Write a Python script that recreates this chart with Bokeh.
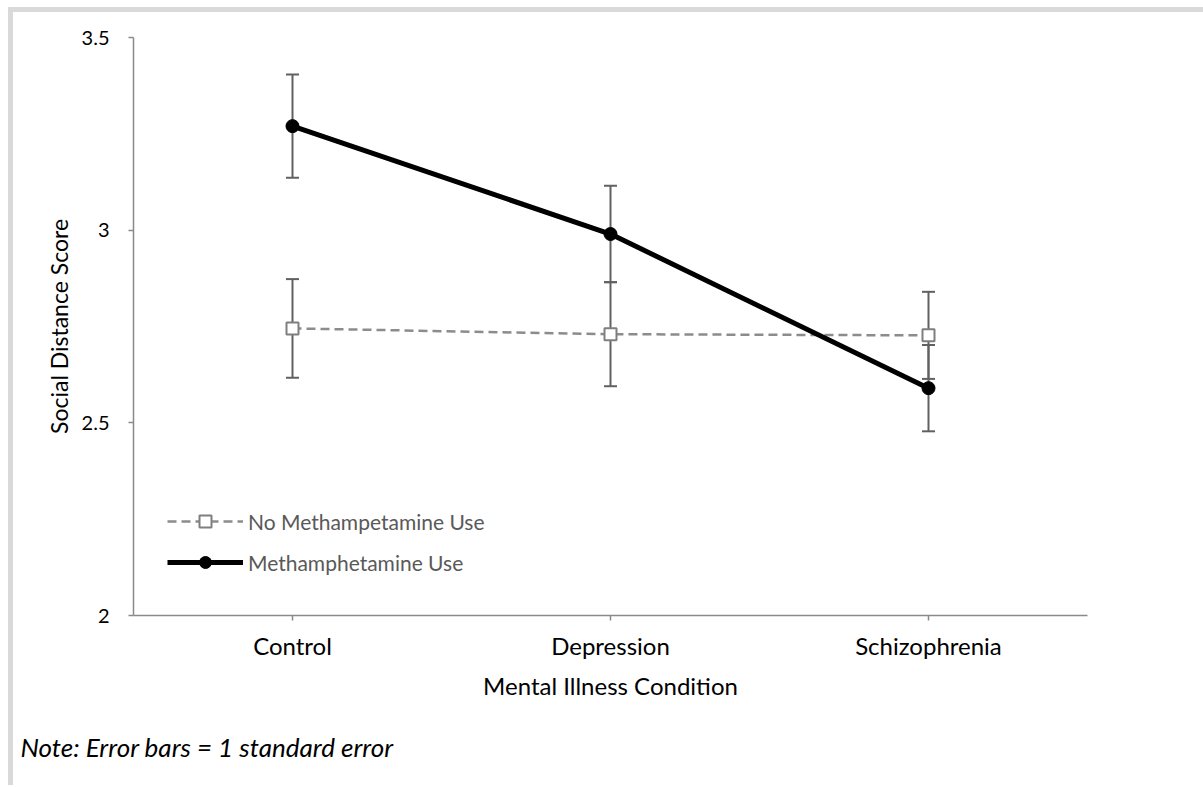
from bokeh.plotting import figure
from bokeh.models import (ColumnDataSource, FactorRange, Range1d, Whisker, TeeHead,
                          FixedTicker, NumeralTickFormatter, Title)
from bokeh.embed import file_html
from bokeh.resources import INLINE

categories = ["Control", "Depression", "Schizophrenia"]
meth_mean = [3.27, 2.99, 2.59]
meth_se = [0.134, 0.125, 0.112]
nometh_mean = [2.745, 2.73, 2.727]
nometh_se = [0.128, 0.135, 0.113]
y_ticks = [2, 2.5, 3, 3.5]
series_names = ["No Methampetamine Use", "Methamphetamine Use"]
x_title = "Mental Illness Condition"
y_title = "Social Distance Score"
note_text = "Note: Error bars = 1 standard error"

FONT = "Lato"
AXIS_GRAY = "#8a8a8a"
ERR_GRAY = "#616161"

src_no = ColumnDataSource(dict(
    x=categories, y=nometh_mean,
    upper=[m + s for m, s in zip(nometh_mean, nometh_se)],
    lower=[m - s for m, s in zip(nometh_mean, nometh_se)],
))
src_me = ColumnDataSource(dict(
    x=categories, y=meth_mean,
    upper=[m + s for m, s in zip(meth_mean, meth_se)],
    lower=[m - s for m, s in zip(meth_mean, meth_se)],
))

p = figure(width=1195, height=778, x_range=FactorRange(*categories, range_padding=0),
           y_range=Range1d(2, 3.5), output_backend="svg", toolbar_location=None,
           min_border_left=120, min_border_right=121, min_border_top=25, min_border_bottom=175)
p.styles = {"border-left": "5px solid #d9d9d9", "border-top": "5px solid #d9d9d9",
            "margin-left": "8px", "margin-top": "7px"}
p.outline_line_color = None
p.xgrid.visible = False
p.ygrid.visible = False

for src in (src_no, src_me):
    w = Whisker(base="x", upper="upper", lower="lower", source=src,
                line_color=ERR_GRAY, line_width=2,
                upper_head=TeeHead(size=13, line_color=ERR_GRAY, line_width=2),
                lower_head=TeeHead(size=13, line_color=ERR_GRAY, line_width=2))
    p.add_layout(w)

p.line("x", "y", source=src_no, line_color="#8c8c8c", line_width=2.5, line_dash="9 5",
       legend_label=series_names[0])
p.scatter("x", "y", source=src_no, marker="square", size=12, fill_color="white",
          line_color="#7f7f7f", line_width=2, legend_label=series_names[0])
p.line("x", "y", source=src_me, line_color="black", line_width=5,
       legend_label=series_names[1])
p.scatter("x", "y", source=src_me, marker="circle", size=13, fill_color="black",
          line_color="black", legend_label=series_names[1])

# axes
for ax in (p.xaxis[0], p.yaxis[0]):
    ax.axis_line_color = AXIS_GRAY
    ax.axis_line_width = 1.5
    ax.major_tick_line_color = AXIS_GRAY
    ax.major_tick_line_width = 1.5
    ax.major_tick_in = 0
    ax.major_tick_out = 5
    ax.minor_tick_line_color = None
    ax.major_label_text_font = FONT
    ax.major_label_text_color = "black"
    ax.axis_label_text_font = FONT
    ax.axis_label_text_font_style = "normal"
    ax.axis_label_text_color = "black"

p.yaxis.ticker = FixedTicker(ticks=y_ticks)
p.yaxis.formatter = NumeralTickFormatter(format="0.[0]")
p.yaxis.major_label_text_font_size = "20px"
p.yaxis.major_label_standoff = 19
p.yaxis.axis_label = y_title
p.yaxis.axis_label_text_font_size = "23px"
p.yaxis.axis_label_standoff = 6

p.xaxis.major_label_text_font_size = "24px"
p.xaxis.major_label_standoff = 10
p.xaxis.axis_label = x_title
p.xaxis.axis_label_text_font_size = "24px"
p.xaxis.axis_label_standoff = 8

leg = p.legend[0]
leg.location = (34, 38)
leg.glyph_width = 76
leg.glyph_height = 30
leg.label_height = 30
leg.spacing = 11
leg.padding = 0
leg.margin = 0
leg.label_standoff = 5
leg.border_line_alpha = 0
leg.background_fill_alpha = 0
leg.label_text_color = "#595959"
leg.label_text_font = FONT
leg.label_text_font_size = "21px"

note = Title(text=note_text, align="left", offset=-113, standoff=53,
             text_font=FONT, text_font_style="italic", text_font_size="26px",
             text_color="black")
p.add_layout(note, "below")

open("out.html", "w").write(file_html(p, INLINE))
